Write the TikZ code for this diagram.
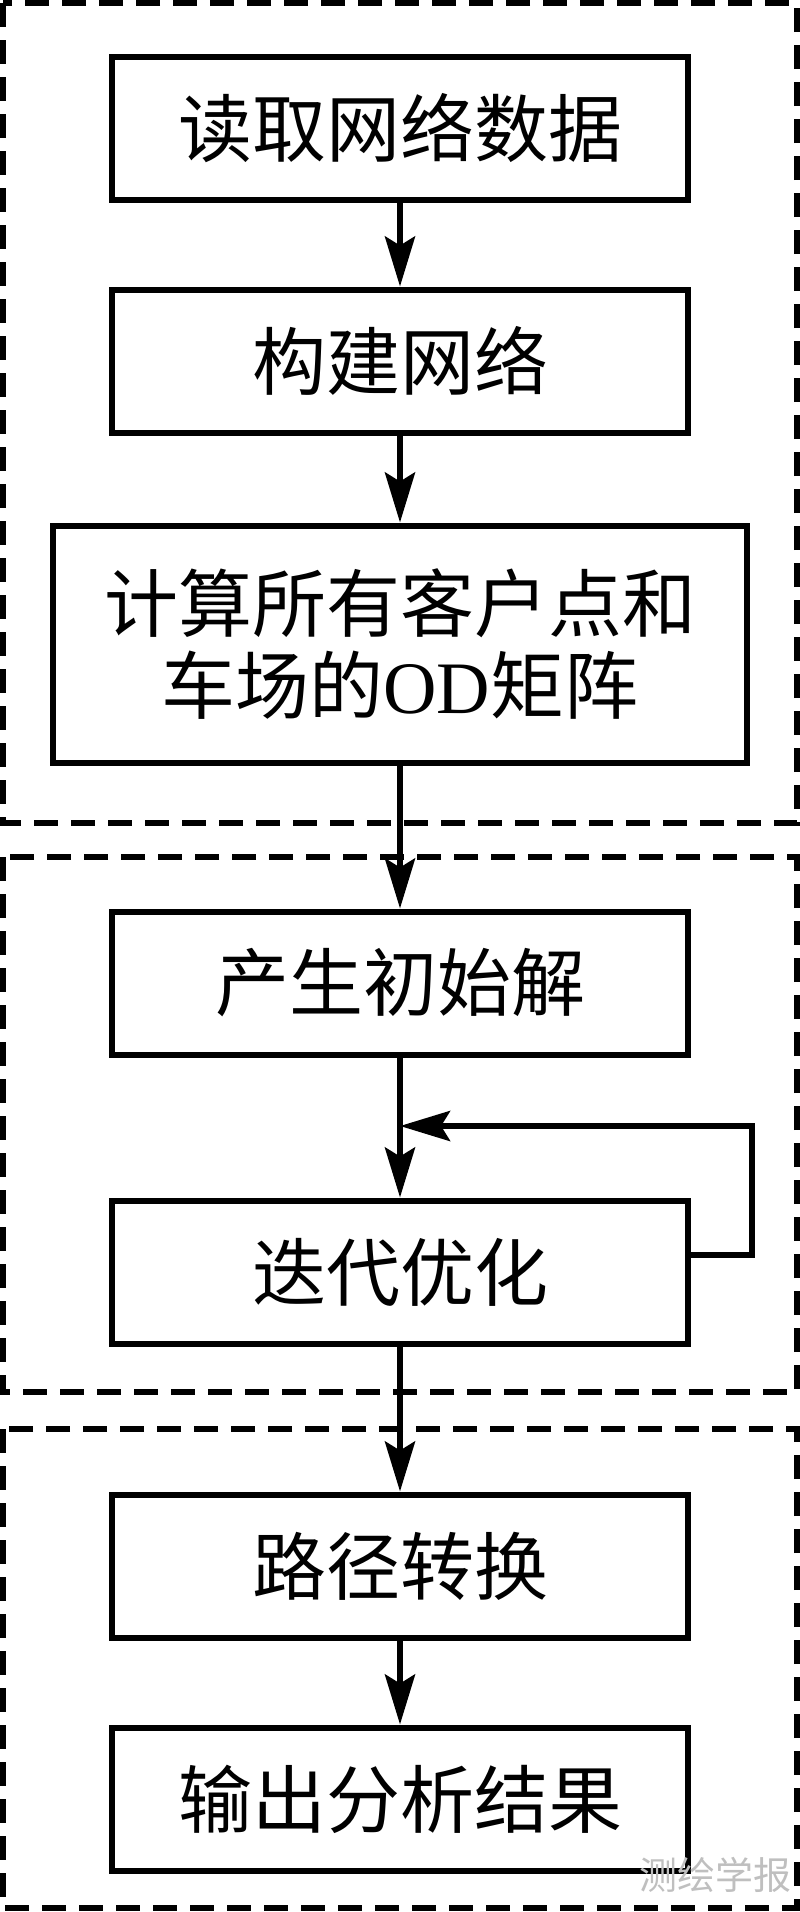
\documentclass[tikz,border=0pt]{standalone}
\usepackage{fontspec}
\setmainfont{Liberation Serif}
\newfontfamily\cjk{Noto Sans CJK SC}
\usetikzlibrary{arrows.meta}

\tikzset{
  stepbox/.style={draw, line width=6pt, minimum width=576pt, minimum height=143pt,
    inner sep=0pt, align=center, font=\cjk\fontsize{74pt}{82pt}\selectfont},
  groupbox/.style={draw, line width=6pt, dash pattern=on 24pt off 13pt},
  flow/.style={line width=6pt, -{Stealth[length=50pt, width=30pt, inset=9pt]}}
}

\begin{document}
\begin{tikzpicture}[x=1pt, y=-1pt]
  \useasboundingbox (0,0) rectangle (800,1912);

  % dashed groups
  \draw[groupbox] (3,3) rectangle (797,823);
  \draw[groupbox] (3,857) rectangle (797,1392);
  \draw[groupbox] (3,1429) rectangle (797,1908);

  \node[stepbox] (read) at (400,128) {读取网络数据};
  \node[stepbox] (build) at (400,361) {构建网络};
  \node[stepbox, minimum width=694pt, minimum height=237pt] (od) at (400,644)
    {计算所有客户点和\\车场的{\rmfamily OD}矩阵};
  \node[stepbox] (init) at (400,983) {产生初始解};
  \node[stepbox] (iter) at (400,1272) {迭代优化};
  \node[stepbox] (path) at (400,1566) {路径转换};
  \node[stepbox] (out) at (400,1799) {输出分析结果};

  \foreach \a/\b in {read/build, build/od, od/init, init/iter, iter/path, path/out}
    \draw[flow] (\a) -- (\b);

  % feedback loop
  \coordinate (loop) at (752,1126);
  \coordinate (back) at (400,1126);
  \draw[flow] ([yshift=17pt]iter.east) -| (loop) -- (back);

  \node[text=black!25, font=\cjk\fontsize{38pt}{40pt}\selectfont] (mark) at (715,1875) {测绘学报};
\end{tikzpicture}
\end{document}
